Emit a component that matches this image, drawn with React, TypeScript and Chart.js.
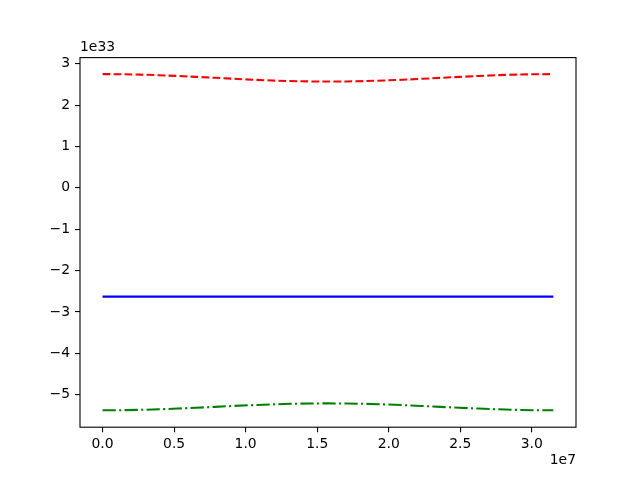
import React, { useEffect, useRef } from "react";
import { Chart, registerables } from "chart.js";

Chart.register(...registerables);

// time in seconds
const timeSec = [
  0, 1.3125e6, 2.625e6, 3.9375e6, 5.25e6, 6.5625e6, 7.875e6, 9.1875e6, 10.5e6,
  11.8125e6, 13.125e6, 14.4375e6, 15.75e6, 17.0625e6, 18.375e6, 19.6875e6, 21e6,
  22.3125e6, 23.625e6, 24.9375e6, 26.25e6, 27.5625e6, 28.875e6, 30.1875e6, 31.5e6,
];

// energies in units of 1e33
const kinetic = [
  2.748, 2.745, 2.736, 2.722, 2.703, 2.681, 2.658, 2.635, 2.613, 2.594, 2.58, 2.571, 2.568,
  2.571, 2.58, 2.594, 2.613, 2.635, 2.658, 2.681, 2.703, 2.722, 2.736, 2.745, 2.748,
];
const total = [
  -2.63, -2.63, -2.63, -2.63, -2.63, -2.63, -2.63, -2.63, -2.63, -2.63, -2.63, -2.63, -2.63,
  -2.63, -2.63, -2.63, -2.63, -2.63, -2.63, -2.63, -2.63, -2.63, -2.63, -2.63, -2.63,
];
const potential = [
  -5.378, -5.375, -5.367, -5.353, -5.336, -5.316, -5.294, -5.272, -5.252, -5.235, -5.221, -5.213, -5.21,
  -5.213, -5.221, -5.235, -5.252, -5.272, -5.294, -5.316, -5.336, -5.353, -5.367, -5.375, -5.378,
];

const xTicks = [0, 0.5e7, 1.0e7, 1.5e7, 2.0e7, 2.5e7, 3.0e7];
const yTicks = [-5, -4, -3, -2, -1, 0, 1, 2, 3];
const xOffsetLabel = "1e7";
const yOffsetLabel = "1e33";

const FONT = "'DejaVu Sans', sans-serif";

const toPts = (ys: number[]) => timeSec.map((t, i) => ({ x: t, y: ys[i] * 1e33 }));

const framePlugin = {
  id: "frame",
  afterDraw(chart: any) {
    const { ctx, chartArea } = chart;
    ctx.save();
    ctx.strokeStyle = "#000";
    ctx.lineWidth = 1.1;
    ctx.strokeRect(chartArea.left, chartArea.top, chartArea.right - chartArea.left, chartArea.bottom - chartArea.top);
    ctx.fillStyle = "#000";
    ctx.font = `13.9px ${FONT}`;
    ctx.textAlign = "left";
    ctx.textBaseline = "bottom";
    ctx.fillText(yOffsetLabel, chartArea.left, chartArea.top - 3);
    ctx.textAlign = "right";
    ctx.textBaseline = "top";
    ctx.fillText(xOffsetLabel, chartArea.right, 453);
    ctx.restore();
  },
};

export default function App() {
  const ref = useRef<HTMLCanvasElement>(null);
  useEffect(() => {
    if (!ref.current) return;
    const chart = new Chart(ref.current, {
      type: "line",
      data: {
        datasets: [
          {
            data: toPts(kinetic),
            borderColor: "#ff0000",
            borderWidth: 2.08,
            borderDash: [7.7, 3.3],
            pointRadius: 0,
            tension: 0,
          },
          {
            data: toPts(total),
            borderColor: "#0000ff",
            borderWidth: 2.08,
            pointRadius: 0,
          },
          {
            data: toPts(potential),
            borderColor: "#008000",
            borderWidth: 2.08,
            borderDash: [13.3, 3.3, 2.1, 3.3],
            pointRadius: 0,
          },
        ],
      },
      options: {
        responsive: false,
        animation: false,
        events: [],
        layout: { padding: { top: 57.6, right: 64, bottom: 0, left: 0 } },
        plugins: { legend: { display: false }, tooltip: { enabled: false } },
        scales: {
          x: {
            type: "linear",
            min: -0.1576e7,
            max: 3.3087e7,
            afterBuildTicks: (s: any) => {
              s.ticks = xTicks.map((v) => ({ value: v }));
            },
            afterFit: (s: any) => {
              s.height = 52.8;
            },
            grid: { drawOnChartArea: false, drawTicks: true, tickLength: 5, color: "#000", lineWidth: 1.1 },
            border: { display: false },
            ticks: {
              color: "#000",
              font: { family: FONT, size: 13.9 },
              padding: 4,
              maxRotation: 0,
              autoSkip: false,
              callback: (v: any) => (Number(v) / 1e7).toFixed(1),
            },
          },
          y: {
            type: "linear",
            min: -5.786e33,
            max: 3.147e33,
            afterBuildTicks: (s: any) => {
              s.ticks = yTicks.map((v) => ({ value: v * 1e33 }));
            },
            afterFit: (s: any) => {
              s.width = 80;
            },
            grid: { drawOnChartArea: false, drawTicks: true, tickLength: 5, color: "#000", lineWidth: 1.1 },
            border: { display: false },
            ticks: {
              color: "#000",
              font: { family: FONT, size: 13.9 },
              padding: 5,
              autoSkip: false,
              callback: (v: any) => {
                const n = Math.round(Number(v) / 1e33);
                return n < 0 ? "\u2212" + Math.abs(n) : String(n);
              },
            },
          },
        },
      },
      plugins: [framePlugin],
    });
    return () => chart.destroy();
  }, []);
  return (
    <div style={{ position: "absolute", left: 0, top: 0, width: 640, height: 480, background: "#fff" }}>
      <canvas ref={ref} width={640} height={480} style={{ width: 640, height: 480 }} />
    </div>
  );
}
